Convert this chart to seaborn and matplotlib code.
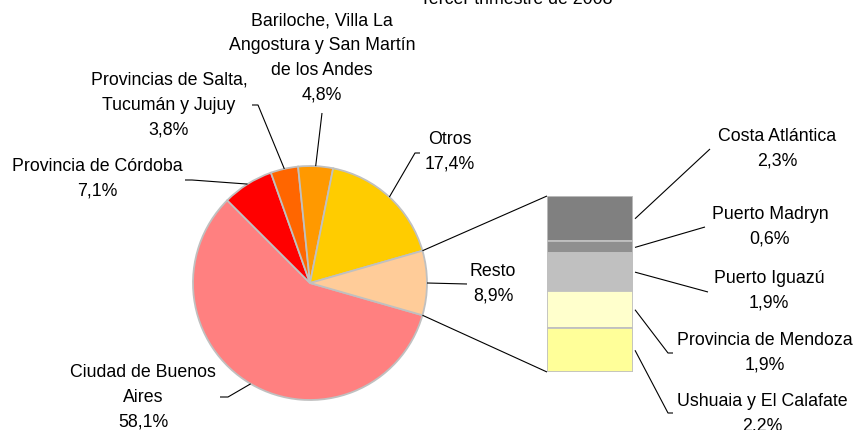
import matplotlib
matplotlib.use("Agg")
import matplotlib.pyplot as plt
import seaborn as sns
import numpy as np

# ---- data ----
pie_labels = ["Ciudad de Buenos\nAires", "Provincia de Córdoba",
              "Provincias de Salta,\nTucumán y Jujuy",
              "Bariloche, Villa La\nAngostura y San Martín\nde los Andes",
              "Otros", "Resto"]
pie_values = [58.1, 7.1, 3.8, 4.8, 17.4, 8.9]
pie_colors = ["#FF8080", "#FF0000", "#FF6600", "#FF9900", "#FFCC00", "#FFCC99"]

bar_labels = ["Costa Atlántica", "Puerto Madryn", "Puerto Iguazú",
              "Provincia de Mendoza", "Ushuaia y El Calafate"]
bar_values = [2.3, 0.6, 1.9, 1.9, 2.2]
bar_colors = ["#808080", "#8F8F8F", "#C0C0C0", "#FFFFCC", "#FFFF99"]

title = "Tercer trimestre de 2008"

def fmt(v):
    return f"{v:.1f}%".replace(".", ",")

# ---- style ----
sns.set_theme(style="white")
plt.rcParams['font.family'] = ['Liberation Sans', 'DejaVu Sans']
FS = 12.8
LS = 1.6
W, H = 856, 430
fig = plt.figure(figsize=(W / 100, H / 100), dpi=100)
fig.patch.set_facecolor("white")
ax = fig.add_axes([0, 0, 1, 1])

def P(x, y):  # pixel (top-left origin) -> data coords of main axes
    return (x, H - y)

cx, cy, R = 310, 283, 117
resto_deg = pie_values[-1] / sum(pie_values) * 360
wedges, _ = ax.pie(pie_values, colors=pie_colors, startangle=-resto_deg / 2,
                   counterclock=False, center=P(cx, cy), radius=R,
                   wedgeprops=dict(edgecolor="#C0C0C0", linewidth=1.3))
ax.set_xlim(0, W)
ax.set_ylim(0, H)
ax.set_aspect("auto")
ax.axis("off")

def edge(w, frac=1.0):
    a = np.deg2rad((w.theta1 + w.theta2) / 2)
    c = w.center
    return (c[0] + w.r * frac * np.cos(a), c[1] + w.r * frac * np.sin(a))

def line(pts, **kw):
    xs, ys = zip(*pts)
    ax.plot(xs, ys, color="black", lw=0.8, solid_capstyle="butt", **kw)

# pie labels: (text center x, block center y), leader points (pixel)
pie_layout = [
    ((143, 397), [(220, 397), (228, 397)]),
    ((97, 179), [(185, 180), (192, 180)]),
    ((169, 105), [(252, 105), (258, 105)]),
    ((322, 58), [(322, 113)]),
    ((450, 152), [(420, 153), (415, 153)]),
    ((493, 284), [(467, 284)]),
]
for w, lab, v, ((tx, ty), lead) in zip(wedges, pie_labels, pie_values, pie_layout):
    ax.text(*P(tx, ty), f"{lab}\n{fmt(v)}", ha="center", va="center",
            fontsize=FS, linespacing=LS, color="black")
    line([P(*p) for p in lead] + [edge(w)])

# ---- bar of pie ----
bx0, by0, bw, bh = 547, 372, 86, 176  # left, bottom (pixel), width, height
bax = fig.add_axes([bx0 / W, (H - by0) / H, bw / W, bh / H])
total = sum(bar_values)
tops = total - np.cumsum([0] + bar_values[:-1])
bottoms = tops - np.array(bar_values)
bax.bar([0] * len(bar_values), bar_values, bottom=bottoms, width=1.0,
        color=bar_colors, edgecolor="#C0C0C0", linewidth=1.3)
bax.set_xlim(-0.5, 0.5)
bax.set_ylim(0, total)
bax.axis("off")

def b2m(x, y):
    return ax.transData.inverted().transform(bax.transData.transform((x, y)))

# connectors pie -> bar
rw = wedges[-1]
c = rw.center
for ang, by in [(rw.theta2, total), (rw.theta1, 0)]:
    a = np.deg2rad(ang)
    p = (c[0] + R * np.cos(a), c[1] + R * np.sin(a))
    line([p, b2m(-0.5, by)])

bar_layout = [
    ((777, 149), [(710, 149)]),
    ((770, 227), [(705, 227)]),
    ((769, 291), [(708, 292)]),
    ((765, 353), [(673, 353), (668, 353)]),
    ((762, 414), [(673, 413), (668, 413)]),
]
for lab, v, b, t, ((tx, ty), lead) in zip(bar_labels, bar_values, bottoms, tops, bar_layout):
    ax.text(*P(tx, ty), f"{lab}\n{fmt(v)}", ha="center", va="center",
            fontsize=FS, linespacing=LS, color="black")
    bp = b2m(0.5, (b + t) / 2)
    line([P(*p) for p in lead] + [(bp[0] + 2, bp[1])])

ax.text(*P(516, 4), title, ha="center", va="baseline", fontsize=FS, color="black")

fig.savefig("out.png", dpi=100, facecolor="white")
